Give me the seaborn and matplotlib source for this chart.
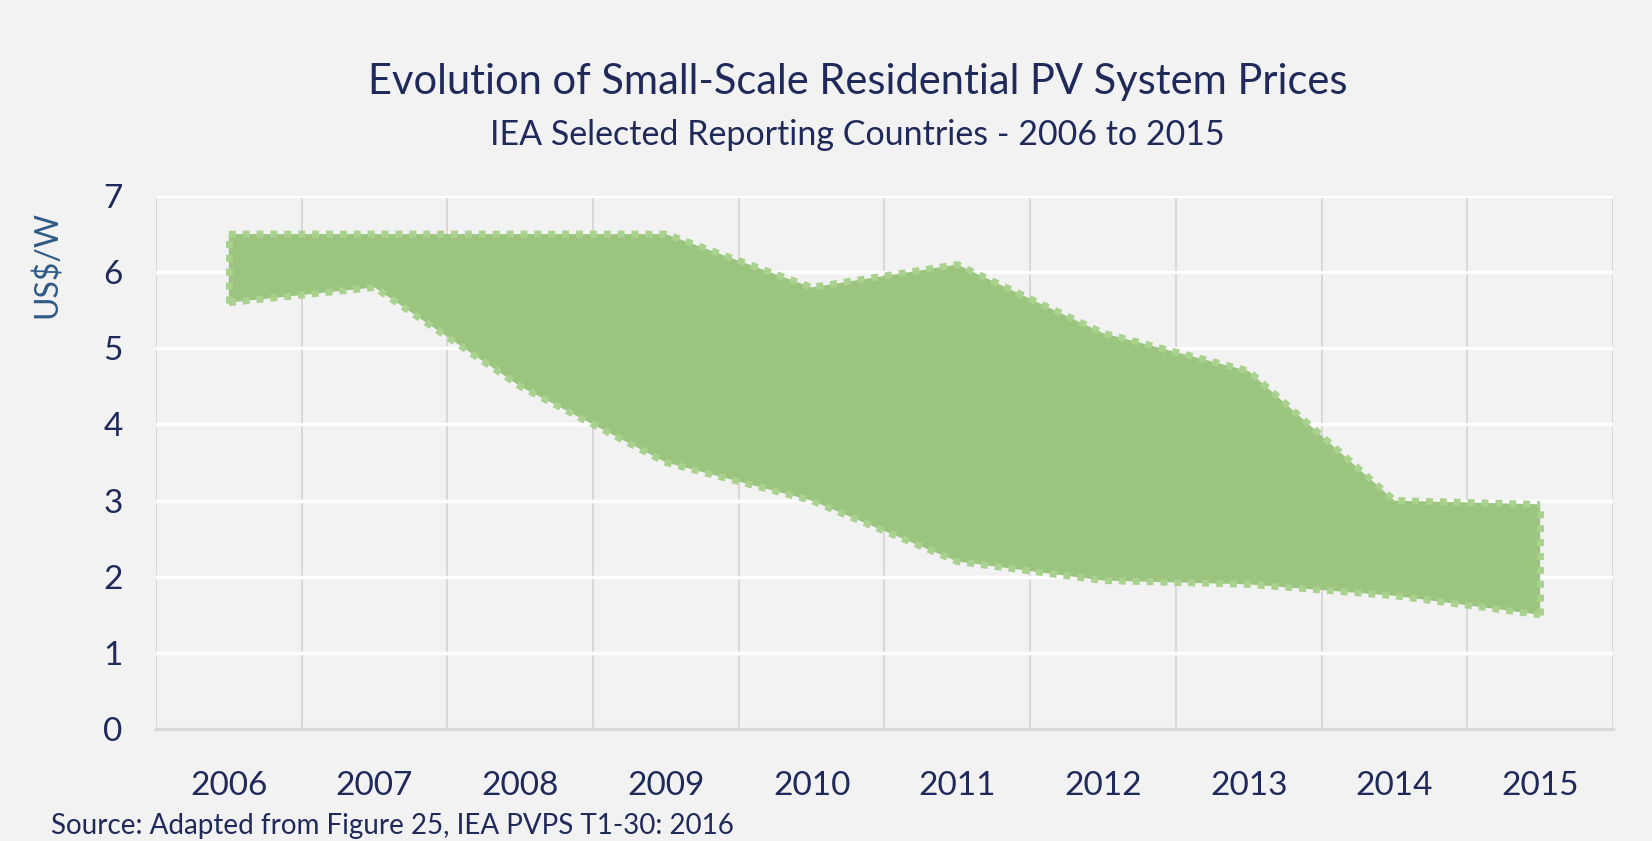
import numpy as np
import pandas as pd
import matplotlib
matplotlib.use("Agg")
import matplotlib.pyplot as plt
import seaborn as sns

# values (US$/W)
years = ['2006', '2007', '2008', '2009', '2010', '2011', '2012', '2013', '2014', '2015']
price_high = [6.5, 6.5, 6.5, 6.5, 5.8, 6.1, 5.2, 4.7, 3.0, 2.95]
price_low = [5.6, 5.8, 4.5, 3.5, 3.0, 2.2, 1.95, 1.9, 1.75, 1.5]

df = pd.DataFrame({'year': years, 'high': price_high, 'low': price_low})
df['pos'] = np.arange(len(df))

bg = '#f2f2f2'
navy = '#1f2a5a'
fill_green = '#9bc47f'
edge_green = '#a9d28e'

sns.set_theme(style='white', rc={'axes.facecolor': bg, 'figure.facecolor': bg})
plt.rcParams['font.family'] = ['Lato', 'DejaVu Sans']

fig = plt.figure(figsize=(16.52, 8.41), dpi=100)
ax = fig.add_axes([0.0944, 0.1332, 0.882, 0.6337])

ax.fill_between(df['pos'], df['low'], df['high'], facecolor=fill_green,
                edgecolor='none', zorder=3)
dots = (0, (1, 1))
sns.lineplot(data=df, x='pos', y='high', ax=ax, color=edge_green, lw=5,
             linestyle=dots, zorder=4)
sns.lineplot(data=df, x='pos', y='low', ax=ax, color=edge_green, lw=5,
             linestyle=dots, zorder=4)
# closing edges at both ends of the band
for i in [0, len(df) - 1]:
    ax.plot([df['pos'][i], df['pos'][i]], [df['low'][i], df['high'][i]],
            color=edge_green, lw=5, linestyle=dots, zorder=4)

ax.set_xlim(-0.5, len(years) - 0.5)
ax.set_ylim(0, 7)
ax.set_yticks(range(0, 8))
ax.set_xticks(df['pos'])
ax.set_xticklabels(years)
ax.set_xticks(np.arange(-0.5, len(years), 1), minor=True)

# white horizontal grid, grey vertical grid
ax.grid(axis='y', which='major', color='white', lw=2.5, zorder=1)
ax.grid(axis='x', which='minor', color='#d6d6d6', lw=1.3, zorder=1)
ax.grid(axis='x', which='major', visible=False)
for s in ['top', 'right', 'left']:
    ax.spines[s].set_visible(False)
ax.spines['bottom'].set_color('#d9d9d9')
ax.spines['bottom'].set_linewidth(2.5)

ax.tick_params(axis='x', which='major', length=0, labelsize=24, labelcolor=navy, pad=30)
ax.tick_params(axis='x', which='minor', length=14, color='#d6d6d6', width=1.3)
ax.tick_params(axis='y', length=10, color='white', width=2.5, labelsize=24,
               labelcolor=navy, pad=14)
ax.set_xlabel('')
ax.set_ylabel('')

fig.text(0.0285, 0.685, 'US$/W', rotation=90, ha='center', va='center',
         fontsize=23, color='#2e5a87')
fig.text(0.519, 0.9025, 'Evolution of Small-Scale Residential PV System Prices',
         ha='center', va='center', fontsize=30, color=navy)
fig.text(0.519, 0.8395, 'IEA Selected Reporting Countries - 2006 to 2015',
         ha='center', va='center', fontsize=24.5, color=navy)
fig.text(0.0306, 0.018, 'Source: Adapted from Figure 25, IEA PVPS T1-30: 2016',
         ha='left', va='center', fontsize=20, color=navy)

fig.savefig('out.png', dpi=100, facecolor=bg)
